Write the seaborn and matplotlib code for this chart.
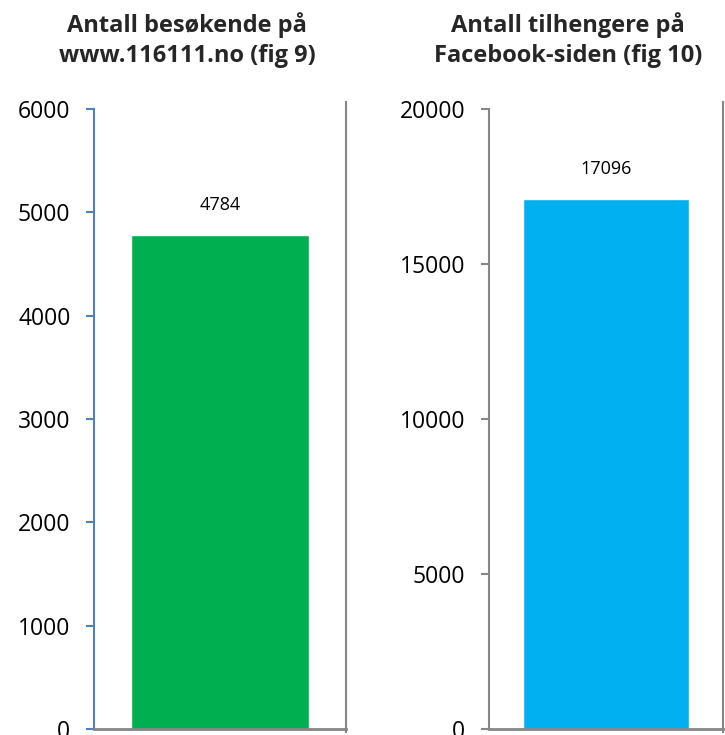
import matplotlib
matplotlib.use("Agg")
import matplotlib.pyplot as plt
import seaborn as sns
import pandas as pd

# --- Data ---
titles = ["Antall besøkende på\nwww.116111.no (fig 9)",
          "Antall tilhengere på\nFacebook-siden (fig 10)"]
categories = ["besøkende", "tilhengere"]
values = [4784, 17096]
y_max = [6000, 20000]
y_step = [1000, 5000]
bar_colors = ["#00B050", "#00B0F0"]
left_spine_colors = ["#4F81BD", "#868686"]

sns.set_theme(style="white")
plt.rcParams["font.family"] = ["Open Sans", "DejaVu Sans"]

W, H = 725, 735
fig = plt.figure(figsize=(W / 100, H / 100), dpi=100)
# axes boxes in pixels: left, right, top, bottom
px_boxes = [(94, 346, 109, 729), (489, 723, 109, 729)]
title_x = [187, 568]

for i in range(2):
    l, r, t, b = px_boxes[i]
    ax = fig.add_axes([l / W, 1 - b / H, (r - l) / W, (b - t) / H])
    df = pd.DataFrame({"cat": [categories[i]], "val": [values[i]]})
    sns.barplot(data=df, x="cat", y="val", color=bar_colors[i], width=0.71,
                saturation=1, ax=ax)
    ax.set_xlim(-0.5, 0.5)
    ax.set_ylim(0, y_max[i])
    ax.set_yticks(range(0, y_max[i] + 1, y_step[i]))
    ax.set_xticks([])
    ax.set_xlabel("")
    ax.set_ylabel("")
    ax.tick_params(axis="y", which="major", left=True, length=6, width=1.5,
                   color=left_spine_colors[i], labelsize=16.5, pad=11)
    for lab in ax.get_yticklabels():
        lab.set_color("black")
    ax.spines["top"].set_visible(False)
    ax.spines["left"].set_color(left_spine_colors[i])
    ax.spines["left"].set_linewidth(1.5)
    ax.spines["right"].set_color("#868686")
    ax.spines["right"].set_linewidth(1.5)
    ax.spines["right"].set_bounds(-0.005 * y_max[i], 1.012 * y_max[i])
    ax.spines["bottom"].set_color("#868686")
    ax.spines["bottom"].set_linewidth(2)
    ax.grid(False)
    ax.bar_label(ax.containers[0], labels=[str(values[i])], padding=15,
                 fontsize=13, color="black")
    fig.text(title_x[i] / W, 1 - 12 / H, titles[i], ha="center", va="top",
             fontsize=17, fontweight="bold", linespacing=1.32)

fig.savefig("out.png", dpi=100)
